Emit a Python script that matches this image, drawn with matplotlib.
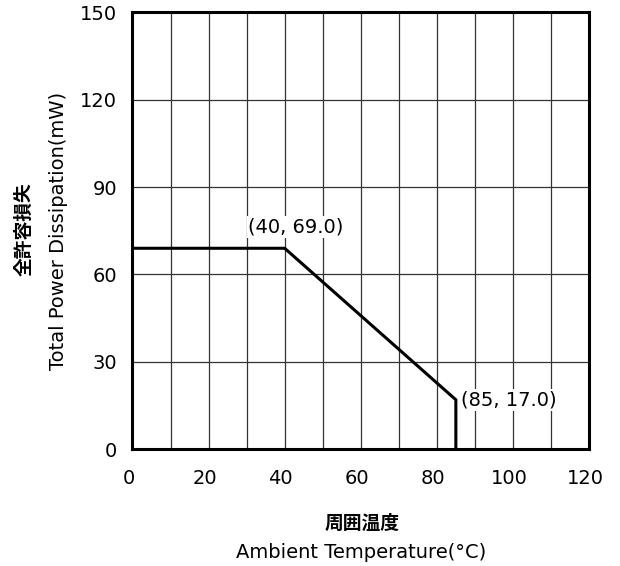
import matplotlib
matplotlib.use('Agg')
import matplotlib.pyplot as plt
import matplotlib.transforms as mtransforms

# derating curve
temps = [0, 40, 85, 85]
power = [69.0, 69.0, 17.0, 0.0]
points = [(40, 69.0), (85, 17.0)]

x_ticks = [0, 20, 40, 60, 80, 100, 120]
y_ticks = [0, 30, 60, 90, 120, 150]
x_grid = list(range(10, 120, 10))
y_grid = [30, 60, 90, 120]

plt.rcParams['font.family'] = ['DejaVu Sans', 'Noto Sans CJK JP']

fig = plt.figure(figsize=(6.2, 5.66), dpi=100)
ax = fig.add_axes([0.2137, 0.2062, 0.7363, 0.7721])

for gx in x_grid:
    ax.axvline(gx, color='#333333', lw=0.9, zorder=1)
for gy in y_grid:
    ax.axhline(gy, color='#333333', lw=0.9, zorder=1)

ax.plot(temps, power, color='black', lw=2.2, zorder=3, solid_joinstyle='miter')

ax.text(points[0][0] + 3, points[0][1] + 7.3, '(40, 69.0)', fontsize=14,
        ha='center', va='center', zorder=4,
        bbox=dict(facecolor='white', edgecolor='none', pad=1))
ax.text(points[1][0] + 1.3, points[1][1], '(85, 17.0)', fontsize=14,
        ha='left', va='center', zorder=4,
        bbox=dict(facecolor='white', edgecolor='none', pad=1))

ax.set_xlim(0, 120)
ax.set_ylim(0, 150)
ax.set_xticks(x_ticks)
ax.set_yticks(y_ticks)
ax.tick_params(axis='both', length=0, labelsize=14)
ax.tick_params(axis='x', pad=14)
ax.tick_params(axis='y', pad=11)

offset = mtransforms.ScaledTranslation(-4 / 100, 0, fig.dpi_scale_trans)
for lab in ax.get_xticklabels():
    lab.set_transform(lab.get_transform() + offset)

for sp in ax.spines.values():
    sp.set_linewidth(2.2)
    sp.set_zorder(5)

fig.text(0.584, 1 - 523 / 566, '周囲温度', fontsize=13.5, fontweight='bold',
         family=['Noto Sans CJK JP'], ha='center', va='center')
fig.text(0.582, 1 - 552 / 566, 'Ambient Temperature(°C)', fontsize=14,
         ha='center', va='center')
fig.text(24 / 620, 1 - 229 / 566, '全許容損失', fontsize=13.5, fontweight='bold',
         family=['Noto Sans CJK JP'], rotation=90, ha='center', va='center')
fig.text(58 / 620, 1 - 231 / 566, 'Total Power Dissipation(mW)', fontsize=14,
         rotation=90, ha='center', va='center')

fig.savefig('out.png', dpi=100)
